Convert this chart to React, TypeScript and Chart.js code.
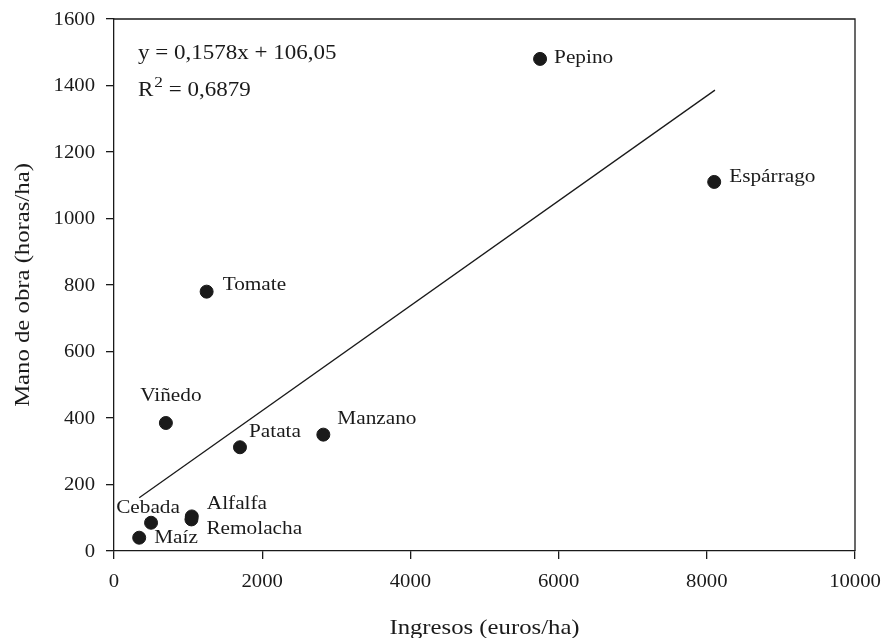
import React, { useEffect, useRef } from "react";
import { Chart, registerables } from "chart.js";

Chart.register(...registerables);

const crops = ["Pepino", "Espárrago", "Tomate", "Viñedo", "Patata", "Manzano", "Cebada", "Maíz", "Alfalfa", "Remolacha"];
const ingresos = [5750, 8100, 1250, 700, 1700, 2825, 500, 340, 1050, 1045];
const manoObra = [1480, 1110, 780, 385, 312, 350, 85, 40, 104, 95];
const trendX = [340, 8110];
const trendY = [160, 1386];
const xTicks = [0, 2000, 4000, 6000, 8000, 10000];
const yTicks = [0, 200, 400, 600, 800, 1000, 1200, 1400, 1600];
const equationText = "y = 0,1578x + 106,05";
const r2Text = " = 0,6879";
const xTitle = "Ingresos (euros/ha)";
const yTitle = "Mano de obra (horas/ha)";

// label offsets (pixels) relative to each point: [dx, dy, align]
const labelOffsets: [number, number, CanvasTextAlign][] = [
  [14, -1, "left"],
  [15, -5, "left"],
  [16, -7, "left"],
  [5, -27, "center"],
  [9, -15, "left"],
  [14, -15, "left"],
  [-3, -15, "center"],
  [15, 0, "left"],
  [15, -12, "left"],
  [15, 10, "left"],
];

const FONT = "'Liberation Serif', 'DejaVu Serif', serif";
const INK = "#1a1a1a";
const SX = 1.15;

function stretchText(
  ctx: CanvasRenderingContext2D,
  text: string,
  x: number,
  y: number,
  size: number,
  align: CanvasTextAlign,
  baseline: CanvasTextBaseline,
  rotate = 0
) {
  ctx.save();
  ctx.translate(x, y);
  if (rotate) ctx.rotate(rotate);
  ctx.scale(SX, 1);
  ctx.font = `${size}px ${FONT}`;
  ctx.textAlign = align;
  ctx.textBaseline = baseline;
  ctx.fillText(text, 0, 0);
  ctx.restore();
}

function textW(ctx: CanvasRenderingContext2D, text: string, size: number) {
  ctx.save();
  ctx.font = `${size}px ${FONT}`;
  const w = ctx.measureText(text).width * SX;
  ctx.restore();
  return w;
}

const annotPlugin = {
  id: "annot",
  afterDatasetsDraw(chart: any) {
    const { ctx, chartArea, scales } = chart;
    const xs = scales.x;
    const ys = scales.y;
    ctx.save();
    ctx.strokeStyle = INK;
    ctx.lineWidth = 1.3;
    ctx.beginPath();
    ctx.moveTo(chartArea.left, chartArea.top);
    ctx.lineTo(chartArea.right, chartArea.top);
    ctx.lineTo(chartArea.right, chartArea.bottom);
    ctx.stroke();
    ctx.fillStyle = INK;

    // tick labels
    yTicks.forEach((v) => {
      stretchText(ctx, String(v), chartArea.left - 19, ys.getPixelForValue(v) + 1, 18, "right", "middle");
    });
    xTicks.forEach((v) => {
      stretchText(ctx, String(v), xs.getPixelForValue(v), chartArea.bottom + 31, 18, "center", "middle");
    });

    // axis titles
    stretchText(ctx, xTitle, (chartArea.left + chartArea.right) / 2, chartArea.bottom + 83, 21.5, "center", "alphabetic");
    stretchText(ctx, yTitle, 29, (chartArea.top + chartArea.bottom) / 2, 21.5, "center", "alphabetic", -Math.PI / 2);

    // point labels
    crops.forEach((c, i) => {
      const px = xs.getPixelForValue(ingresos[i]);
      const py = ys.getPixelForValue(manoObra[i]);
      const [dx, dy, al] = labelOffsets[i];
      stretchText(ctx, c, px + dx, py + dy, 18.5, al, "middle");
    });

    // equation
    const ex = chartArea.left + 24;
    stretchText(ctx, equationText, ex, chartArea.top + 40, 20, "left", "alphabetic");
    const ry = chartArea.top + 77;
    stretchText(ctx, "R", ex, ry, 20, "left", "alphabetic");
    const rw = textW(ctx, "R", 20);
    stretchText(ctx, "2", ex + rw + 1, ry - 9, 15, "left", "alphabetic");
    const w2 = textW(ctx, "2", 15);
    stretchText(ctx, r2Text, ex + rw + w2 + 1, ry, 20, "left", "alphabetic");
    ctx.restore();
  },
};

export default function App() {
  const ref = useRef<HTMLCanvasElement | null>(null);
  useEffect(() => {
    if (!ref.current) return;
    const chart = new Chart(ref.current, {
      type: "scatter",
      data: {
        datasets: [
          {
            label: "Cultivos",
            data: ingresos.map((x, i) => ({ x, y: manoObra[i] })),
            backgroundColor: INK,
            borderColor: INK,
            pointRadius: 6.5,
            pointHoverRadius: 6.5,
            order: 1,
          },
          {
            type: "line",
            label: "Tendencia",
            data: trendX.map((x, i) => ({ x, y: trendY[i] })),
            borderColor: INK,
            borderWidth: 1.3,
            pointRadius: 0,
            fill: false,
            order: 2,
          } as any,
        ],
      },
      options: {
        responsive: false,
        animation: false,
        layout: { padding: { top: 19, right: 28, left: 0, bottom: 0 } },
        plugins: { legend: { display: false }, tooltip: { enabled: false } },
        scales: {
          x: {
            type: "linear",
            min: 0,
            max: 10000,
            afterBuildTicks: (s: any) => {
              s.ticks = xTicks.map((v) => ({ value: v }));
            },
            afterFit: (s: any) => {
              s.height = 87;
            },
            grid: { drawOnChartArea: false, drawTicks: true, tickLength: 8, color: INK, lineWidth: 1.3 },
            border: { display: true, color: INK, width: 1.3 },
            ticks: { display: false },
            title: { display: false },
          },
          y: {
            type: "linear",
            min: 0,
            max: 1600,
            afterBuildTicks: (s: any) => {
              s.ticks = yTicks.map((v) => ({ value: v }));
            },
            afterFit: (s: any) => {
              s.width = 114;
            },
            grid: { drawOnChartArea: false, drawTicks: true, tickLength: 8, color: INK, lineWidth: 1.3 },
            border: { display: true, color: INK, width: 1.3 },
            ticks: { display: false },
            title: { display: false },
          },
        },
      },
      plugins: [annotPlugin],
    });
    return () => chart.destroy();
  }, []);
  return (
    <div style={{ position: "fixed", left: 0, top: 0, width: 883, height: 638, background: "#fff" }}>
      <canvas ref={ref} width={883} height={638} style={{ display: "block" }} />
    </div>
  );
}
